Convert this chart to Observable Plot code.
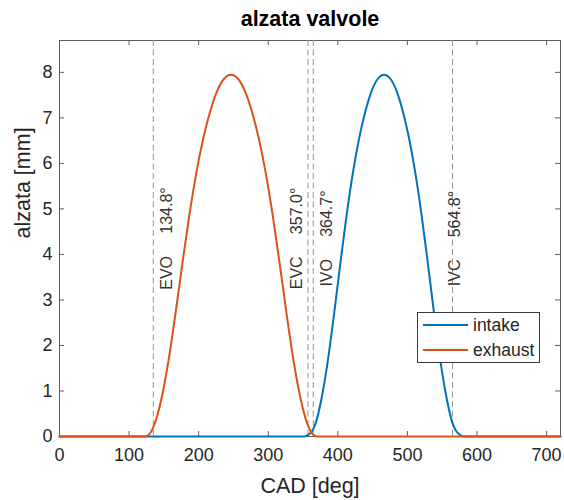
<!DOCTYPE html>
<html>
<head>
<meta charset="utf-8">
<script src="https://cdn.jsdelivr.net/npm/d3@7"></script>
<script src="https://cdn.jsdelivr.net/npm/@observablehq/plot@0.6"></script>
<style>
  html, body { margin: 0; padding: 0; background: #fff; }
  #wrap { position: relative; width: 564px; height: 500px; font-family: 'Liberation Sans', Arial, Helvetica, sans-serif; }
  #legend { position: absolute; left: 417px; top: 312px; width: 123px; height: 51px; box-sizing: border-box;
            border: 1px solid #3a3a3a; background: #fff; font-size: 17.5px; color: #262626; }
  .item { position: absolute; left: 0; height: 24px; display: flex; align-items: center; }
  .swatch { width: 45px; height: 2px; margin-left: 5px; margin-right: 5px; }
</style>
</head>
<body>
<div id="wrap"></div>
<script>
// ---- data ----
const xTicks = [0, 100, 200, 300, 400, 500, 600, 700];
const yTicks = [0, 1, 2, 3, 4, 5, 6, 7, 8];

const seriesNames = ["intake", "exhaust"];
const seriesColors = ["#0072BD", "#D95319"];

const intakeDeg  = [0, 352.5, 357.5, 362.5, 367.5, 376.5, 385.5, 394.5, 403.5, 412.5, 421.5, 430.5, 439.5, 448.5, 457.5, 466.5,
                    475.5, 484.5, 493.5, 502.5, 511.5, 520.5, 529.5, 538.5, 547.5, 556.5, 565.5, 570.5, 575.5, 580.5, 720];
const intakeLift = [0, 0, 0.035, 0.11, 0.265, 0.83, 1.65, 2.68, 3.79, 4.85, 5.78, 6.54, 7.14, 7.59, 7.86, 7.95,
                    7.86, 7.59, 7.14, 6.54, 5.78, 4.85, 3.79, 2.68, 1.65, 0.83, 0.265, 0.11, 0.035, 0, 0];

const exhaustDeg  = [0, 123.5, 126.5, 131.5, 136.5, 146.5, 156.5, 166.5, 176.5, 186.5, 196.5, 206.5, 216.5, 226.5, 236.5, 246.5,
                     256.5, 266.5, 276.5, 286.5, 296.5, 306.5, 316.5, 326.5, 336.5, 346.5, 356.5, 361.5, 366.5, 369.5, 720];
const exhaustLift = [0, 0, 0.02, 0.10, 0.265, 0.83, 1.65, 2.68, 3.79, 4.85, 5.78, 6.54, 7.14, 7.59, 7.86, 7.95,
                     7.86, 7.59, 7.14, 6.54, 5.78, 4.85, 3.79, 2.68, 1.65, 0.83, 0.265, 0.10, 0.02, 0, 0];

const eventNames = ["EVO", "EVC", "IVO", "IVC"];
const eventDeg = [134.8, 357.0, 364.7, 564.8];

const titleText = "alzata valvole";
const xLabel = "CAD [deg]";
const yLabel = "alzata [mm]";

// ---- build tables ----
const intake = intakeDeg.map((d, i) => ({deg: d, lift: intakeLift[i]}));
const exhaust = exhaustDeg.map((d, i) => ({deg: d, lift: exhaustLift[i]}));
const events = eventNames.map((n, i) => ({name: n, deg: eventDeg[i]}));

// ---- layout / style ----
const W = 564, H = 500, mL = 59, mR = 4, mT = 40, mB = 64;
const innerW = W - mL - mR, innerH = H - mT - mB;
const labelDx = {EVO: 14, EVC: -11, IVO: 14, IVC: 2};
const ink = "#262626";
const boxInk = "#5e5e5e";
const nb = "\u00a0\u00a0\u00a0\u00a0\u00a0";

const chart = Plot.plot({
  width: W, height: H,
  marginLeft: mL, marginRight: mR, marginTop: mT, marginBottom: mB,
  style: {fontFamily: "'Liberation Sans', Arial, Helvetica, sans-serif", background: "white", color: ink},
  x: {domain: [0, 720]},
  y: {domain: [0, 8.7]},
  marks: [
    Plot.tickX(xTicks, {x: d => d, insetTop: innerH - 5, stroke: boxInk}),
    Plot.tickX(xTicks, {x: d => d, insetBottom: innerH - 5, stroke: boxInk}),
    Plot.tickY(yTicks, {y: d => d, insetRight: innerW - 5, stroke: boxInk}),
    Plot.tickY(yTicks, {y: d => d, insetLeft: innerW - 5, stroke: boxInk}),
    Plot.frame({stroke: boxInk, strokeWidth: 1}),
    Plot.ruleX(events, {x: "deg", stroke: "#949494", strokeWidth: 1, strokeDasharray: "6,3.5"}),
    ...events.map(e => Plot.text([e], {
      x: "deg", text: d => `${d.name}${nb}${d.deg.toFixed(1)}°`,
      frameAnchor: "middle", rotate: -90, dx: labelDx[e.name],
      fontSize: 16, fill: "#333"
    })),
    Plot.line(intake, {x: "deg", y: "lift", stroke: seriesColors[0], strokeWidth: 2, curve: "monotone-x"}),
    Plot.line(exhaust, {x: "deg", y: "lift", stroke: seriesColors[1], strokeWidth: 2, curve: "monotone-x"}),
    Plot.axisX({ticks: xTicks, tickSize: 0, tickPadding: 12, fontSize: 18, label: null, tickFormat: d => String(d)}),
    Plot.axisY({ticks: yTicks, tickSize: 0, tickPadding: 7, fontSize: 18, label: null}),
    Plot.text([titleText], {frameAnchor: "top", dy: -15, lineAnchor: "bottom", fontSize: 21.5, fontWeight: "bold", fill: "#000"}),
    Plot.text([xLabel], {frameAnchor: "bottom", dy: 41, lineAnchor: "top", fontSize: 21.5, fill: ink}),
    Plot.text([yLabel], {frameAnchor: "left", dx: -36, rotate: -90, lineAnchor: "middle", fontSize: 21.5, fill: ink})
  ]
});

const wrap = document.getElementById("wrap");
wrap.appendChild(chart);

// legend
const legend = document.createElement("div");
legend.id = "legend";
seriesNames.forEach((name, i) => {
  const item = document.createElement("div");
  item.className = "item";
  item.style.top = (i === 0 ? 0 : 25) + "px";
  const sw = document.createElement("span");
  sw.className = "swatch";
  sw.style.background = seriesColors[i];
  const t = document.createElement("span");
  t.textContent = name;
  item.appendChild(sw);
  item.appendChild(t);
  legend.appendChild(item);
});
wrap.appendChild(legend);
</script>
</body>
</html>
